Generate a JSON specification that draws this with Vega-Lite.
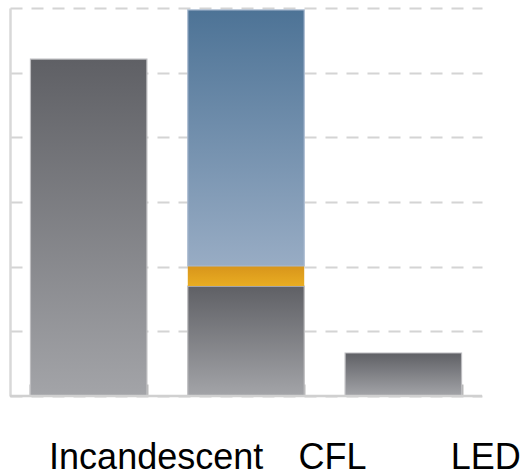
{
  "$schema": "https://vega.github.io/schema/vega-lite/v6.json",
  "width": 472,
  "height": 388,
  "autosize": {"type": "none"},
  "padding": {"left": 10, "top": 8, "right": 42, "bottom": 79},
  "background": "white",
  "config": {"view": {"stroke": null}},
  "layer": [
    {
      "data": {
        "values": [
          {"bulb": "Incandescent", "part": "base", "lo": 0, "hi": 5.21},
          {"bulb": "CFL", "part": "base", "lo": 0, "hi": 1.7},
          {"bulb": "CFL", "part": "mid", "lo": 1.7, "hi": 2.01},
          {"bulb": "CFL", "part": "top", "lo": 2.01, "hi": 5.97},
          {"bulb": "LED", "part": "base", "lo": 0, "hi": 0.665}
        ]
      },
      "encoding": {
        "x": {
          "field": "bulb",
          "type": "nominal",
          "sort": ["Incandescent", "CFL", "LED"],
          "scale": {"paddingInner": 0.26, "paddingOuter": 0.13},
          "axis": {
            "title": null,
            "offset": -12,
            "domain": false,
            "ticks": true,
            "tickBand": "extent",
            "tickOffset": 20,
            "tickSize": 12,
            "tickColor": "#b8b8b8",
            "tickWidth": 2,
            "labelFont": "Liberation Sans",
            "labelFontSize": 36,
            "labelColor": "#000000",
            "labelLimit": 0,
            "labelOverlap": false,
            "labelFlush": false,
            "labelAngle": 0,
            "labelPadding": 44,
            "labelOffset": {
              "condition": [
                {"test": "datum.value === 'Incandescent'", "value": 67},
                {"test": "datum.value === 'CFL'", "value": 86}
              ],
              "value": 82
            }
          }
        },
        "y": {
          "field": "lo",
          "type": "quantitative",
          "scale": {"domain": [0, 6], "nice": false},
          "axis": {
            "title": null,
            "labels": false,
            "ticks": false,
            "values": [0, 1, 2, 3, 4, 5, 6],
            "domainColor": "#d8d8d8",
            "domainWidth": 2.5,
            "gridColor": "#d4d4d4",
            "gridWidth": 2,
            "gridDash": [12, 9]
          }
        },
        "y2": {"field": "hi"}
      },
      "layer": [
        {
          "transform": [{"filter": "datum.part === 'base'"}],
          "mark": {
            "type": "bar",
            "stroke": "#bcbcbf",
            "strokeWidth": 1.2,
            "color": {
              "gradient": "linear",
              "x1": 0, "y1": 0, "x2": 0, "y2": 1,
              "stops": [
                {"offset": 0, "color": "#5f6065"},
                {"offset": 1, "color": "#a3a4a8"}
              ]
            }
          }
        },
        {
          "transform": [{"filter": "datum.part === 'mid'"}],
          "mark": {
            "type": "bar",
            "color": {
              "gradient": "linear",
              "x1": 0, "y1": 0, "x2": 0, "y2": 1,
              "stops": [
                {"offset": 0, "color": "#d8951b"},
                {"offset": 1, "color": "#e9ad22"}
              ]
            }
          }
        },
        {
          "transform": [{"filter": "datum.part === 'top'"}],
          "mark": {
            "type": "bar",
            "stroke": "#a9bad0",
            "strokeWidth": 1.2,
            "color": {
              "gradient": "linear",
              "x1": 0, "y1": 0, "x2": 0, "y2": 1,
              "stops": [
                {"offset": 0, "color": "#4d7396"},
                {"offset": 1, "color": "#98acc4"}
              ]
            }
          }
        }
      ]
    },
    {
      "data": {"values": [{"base": 0}]},
      "mark": {"type": "rule", "color": "#d0d0d0", "strokeWidth": 2.5},
      "encoding": {"y": {"field": "base", "type": "quantitative"}}
    }
  ]
}
